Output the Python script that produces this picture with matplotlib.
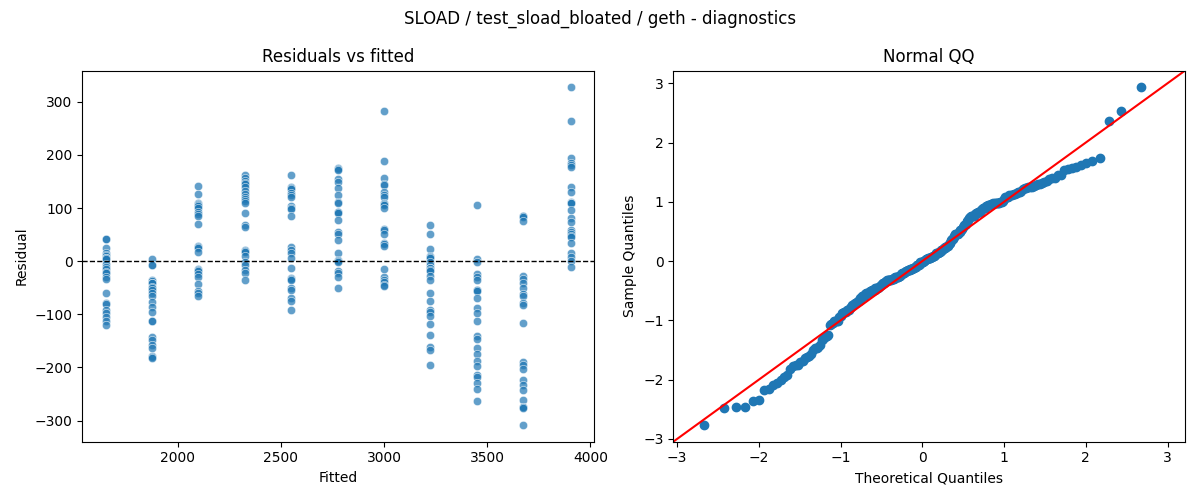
import numpy as np
import matplotlib
matplotlib.use("Agg")
import matplotlib.pyplot as plt
import seaborn as sns
from statistics import NormalDist

# fitted levels (one column of points per level)
fitted_levels = [1650, 1875, 2100, 2325, 2550, 2775, 3000, 3225, 3450, 3675, 3905]

# residuals, 24 per fitted level
res_1650 = [41, 41, 24, 16, 12, 10, 6, 6, 4, -6, -10, -14, -20, -23, -30, -34, -60, -78, -80, -91, -98, -105, -113, -121]
res_1875 = [4, -7, -7, -35, -38, -41, -41, -48, -51, -55, -59, -66, -76, -86, -95, -112, -112, -142, -149, -157, -163, -178, -180, -182]
res_2100 = [141, 126, 110, 108, 106, 104, 100, 93, 88, 85, 70, 29, 26, 24, 18, -15, -17, -19, -25, -29, -43, -56, -60, -65]
res_2325 = [162, 157, 151, 148, 145, 139, 133, 126, 121, 117, 114, 110, 90, 68, 64, 21, 19, 18, 9, -1, -7, -16, -23, -35]
res_2550 = [162, 139, 137, 135, 128, 125, 121, 103, 100, 98, 85, 26, 21, 15, 6, -13, -32, -34, -36, -51, -55, -70, -74, -91]
res_2775 = [175, 174, 172, 154, 150, 137, 125, 112, 109, 93, 92, 90, 78, 55, 51, 40, 16, 3, 0, -1, -19, -23, -30, -51]
res_3000 = [283, 189, 156, 145, 143, 131, 125, 120, 109, 108, 106, 101, 60, 58, 51, 34, 32, 29, -15, -29, -35, -40, -45, -46]
res_3225 = [68, 51, 23, 10, 8, 6, -1, -7, -13, -13, -16, -19, -27, -36, -60, -74, -91, -96, -103, -118, -139, -162, -168, -195]
res_3450 = [106, 4, -1, -24, -30, -36, -54, -55, -56, -70, -88, -98, -112, -140, -147, -163, -175, -188, -198, -214, -217, -229, -241, -263]
res_3675 = [86, 85, 84, 75, -28, -34, -41, -51, -61, -66, -79, -82, -117, -190, -195, -202, -223, -233, -242, -261, -274, -275, -276, -308]
res_3905 = [327, 264, 194, 185, 182, 177, 139, 131, 112, 110, 109, 96, 81, 74, 59, 55, 52, 48, 46, 35, 15, 8, 0, -10]

res_cols = [res_1650, res_1875, res_2100, res_2325, res_2550, res_2775,
            res_3000, res_3225, res_3450, res_3675, res_3905]

fitted = []
resid = []
for f, col in zip(fitted_levels, res_cols):
    fitted += [f] * len(col)
    resid += col
fitted = np.array(fitted, dtype=float)
resid = np.array(resid, dtype=float)

fig, axes = plt.subplots(1, 2, figsize=(12, 5), dpi=100)

# 残差 vs 予測値
ax = axes[0]
sns.scatterplot(x=fitted, y=resid, ax=ax, alpha=0.7)
ax.axhline(0, color="black", linestyle="--", linewidth=1)
ax.set_xlabel("Fitted")
ax.set_ylabel("Residual")
ax.set_title("Residuals vs fitted")

# 正規QQ (標準化した残差 vs 理論分位点)
ax = axes[1]
n = len(resid)
sample = np.sort((resid - resid.mean()) / resid.std())
theo = np.array([NormalDist().inv_cdf(i / (n + 1)) for i in range(1, n + 1)])
ax.plot(theo, sample, "o", markerfacecolor="C0", markeredgecolor="C0")
lo = min(ax.get_xlim()[0], ax.get_ylim()[0])
hi = max(ax.get_xlim()[1], ax.get_ylim()[1])
ax.plot([lo, hi], [lo, hi], color="red")
ax.set_xlim(lo, hi)
ax.set_ylim(lo, hi)
ax.set_xlabel("Theoretical Quantiles")
ax.set_ylabel("Sample Quantiles")
ax.set_title("Normal QQ")

fig.suptitle("SLOAD / test_sload_bloated / geth - diagnostics")
fig.tight_layout()
fig.savefig("out.png")
